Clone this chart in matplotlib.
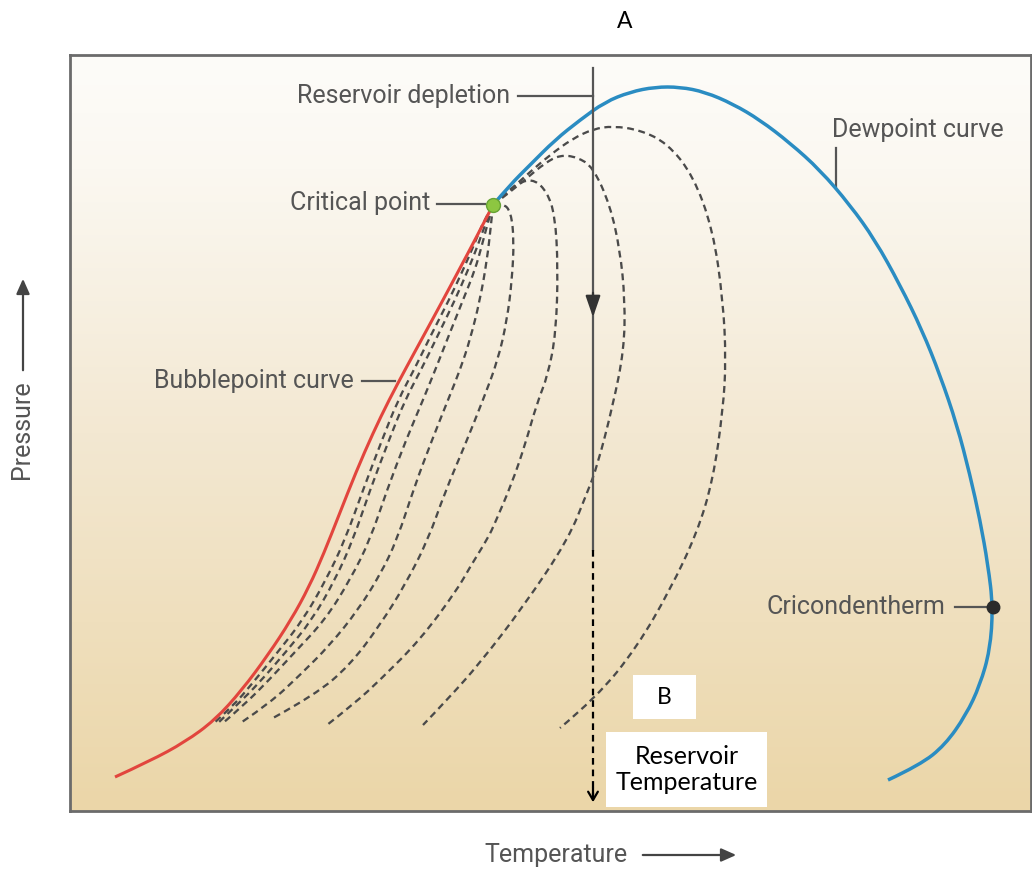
import numpy as np
import matplotlib
matplotlib.use("Agg")
import matplotlib.pyplot as plt
from matplotlib.colors import LinearSegmentedColormap
from matplotlib.patches import Rectangle, PathPatch, FancyArrowPatch
from matplotlib.path import Path

# schematic phase envelope, arbitrary units (temperature, pressure)
bubble_t = [45, 80, 115, 145, 172, 198, 221, 239, 254, 269, 286, 303, 319, 336, 354, 373, 389, 406, 423]
bubble_p = [34, 50, 69, 91, 121, 156, 191, 224, 258, 296, 339, 378, 411, 443, 476, 511, 541, 573, 606]

dew_t = [423, 440, 460, 485, 510, 535, 560, 585, 610, 635, 663, 690, 720, 750, 780, 805, 830, 852,
         870, 887, 900, 910, 918, 923, 920, 910, 896, 875, 850, 818]
dew_p = [606, 626, 646, 671, 691, 709, 719, 724, 724, 719, 707, 691, 668, 641, 606, 571, 526, 481,
         436, 386, 336, 291, 246, 204, 161, 126, 96, 66, 46, 31]

# quality lines, innermost (near bubblepoint) to outermost
quality_t = [
    [423, 414, 404, 393, 379, 361, 345, 328, 312, 293, 275, 256, 233, 207, 181, 164, 143],
    [423, 416, 408, 398, 385, 368, 352, 335, 319, 300, 283, 265, 242, 215, 189, 167, 148],
    [423, 418, 412, 405, 393, 379, 366, 353, 336, 317, 300, 280, 255, 224, 199, 174, 153],
    [423, 421, 417, 410, 400, 390, 378, 362, 345, 327, 310, 288, 260, 230, 200, 172],
    [423, 433, 441, 444, 442, 437, 428, 413, 395, 375, 358, 335, 310, 280, 245, 203],
    [423, 437, 452, 465, 477, 485, 488, 486, 478, 467, 455, 442, 425, 418, 400, 387, 350, 310, 285, 257],
    [423, 440, 457, 475, 490, 507, 523, 540, 550, 555, 554, 543, 527, 517, 498, 453, 410, 377, 353],
    [423, 440, 460, 480, 502, 523, 543, 570, 597, 623, 643, 653, 656, 653, 643, 627, 600, 567, 527, 490],
]
quality_p = [
    [606, 591, 566, 541, 511, 476, 443, 411, 371, 321, 271, 231, 191, 158, 126, 106, 87],
    [606, 589, 566, 541, 511, 476, 443, 411, 371, 321, 271, 231, 191, 158, 128, 106, 88],
    [606, 589, 566, 541, 511, 476, 443, 411, 371, 321, 271, 231, 191, 158, 131, 106, 88],
    [606, 586, 551, 511, 471, 441, 411, 371, 326, 271, 236, 201, 166, 136, 108, 89],
    [606, 608, 599, 571, 531, 491, 451, 411, 366, 319, 271, 226, 186, 146, 116, 93],
    [606, 619, 630, 631, 619, 596, 544, 478, 436, 408, 366, 328, 288, 273, 244, 221, 171, 131, 108, 86],
    [606, 619, 633, 648, 656, 654, 644, 606, 561, 511, 461, 406, 344, 318, 271, 204, 148, 111, 86],
    [606, 621, 639, 656, 672, 682, 685, 681, 668, 636, 581, 511, 451, 401, 331, 278, 221, 164, 114, 83],
]

critical_pt = (423, 606)
cricondentherm_pt = (923, 204)
reservoir_t = 523
depletion_p = [743, 491, 261, 6]

label_font = ["Roboto", "DejaVu Sans"]
label_col = "#555555"
line_col = "#555555"


def smooth(t, p):
    # quadratic segments through midpoints, read points act as control points
    pts = list(zip(t, p))
    verts = [pts[0]]
    codes = [Path.MOVETO]
    for i in range(1, len(pts) - 1):
        mid = ((pts[i][0] + pts[i + 1][0]) / 2, (pts[i][1] + pts[i + 1][1]) / 2)
        if i == len(pts) - 2:
            mid = pts[-1]
        verts += [pts[i], mid]
        codes += [Path.CURVE3, Path.CURVE3]
    return Path(verts, codes)


fig = plt.figure(figsize=(10.32, 8.71), dpi=100)
ax = fig.add_axes([70 / 1032, 60 / 871, 961 / 1032, 756 / 871])
ax.set_xlim(0, 961)
ax.set_ylim(0, 756)
ax.set_xticks([])
ax.set_yticks([])
for s in ax.spines.values():
    s.set_color("#6b6b6b")
    s.set_linewidth(2)

# cream -> tan background
cmap = LinearSegmentedColormap.from_list(
    "bg", [(0, "#ebd6a8"), (0.5, "#f3e8d2"), (0.85, "#fbf8f1"), (1, "#fdfcf9")])
grad = np.linspace(0, 1, 256).reshape(-1, 1)
ax.imshow(grad, extent=(0, 961, 0, 756), origin="lower", aspect="auto", cmap=cmap, zorder=0)

for qt, qp in zip(quality_t, quality_p):
    ax.add_patch(PathPatch(smooth(qt, qp), fill=False, edgecolor="#4a4a4a", lw=1.65,
                           linestyle=(0, (3.0, 2.0)), capstyle="butt", zorder=2))

ax.add_patch(PathPatch(smooth(bubble_t, bubble_p), fill=False, edgecolor="#e2453d", lw=2.2, zorder=3))
ax.add_patch(PathPatch(smooth(dew_t, dew_p), fill=False, edgecolor="#2a8cc2", lw=2.5, zorder=3))

ax.plot(*critical_pt, "o", ms=10, color="#8dc641", mec="#66a235", mew=1, zorder=5)
ax.plot(*cricondentherm_pt, "o", ms=9, color="#2b2b2b", zorder=5)

# reservoir depletion path
ax.plot([reservoir_t, reservoir_t], [depletion_p[0], depletion_p[2]], color=line_col, lw=1.6, zorder=4)
ax.annotate("", xy=(reservoir_t, depletion_p[1]), xytext=(reservoir_t, depletion_p[1] + 30),
            arrowprops=dict(arrowstyle="-|>,head_length=1.3,head_width=0.45", color="#333333", lw=1.6),
            zorder=4)
ax.plot([reservoir_t, reservoir_t], [depletion_p[2], depletion_p[3] + 8], color="black", lw=1.6,
        dashes=(3, 2.2), zorder=4)
ax.annotate("", xy=(reservoir_t, depletion_p[3]), xytext=(reservoir_t, depletion_p[3] + 20),
            arrowprops=dict(arrowstyle="->,head_length=0.6,head_width=0.35", color="black", lw=1.6),
            zorder=4)

# labels with leaders
fs = 18
ax.text(440, 715, "Reservoir depletion", ha="right", va="center", fontsize=fs, color=label_col, family=label_font)
ax.plot([448, reservoir_t], [715, 715], color=line_col, lw=1.6)
ax.text(360, 608, "Critical point", ha="right", va="center", fontsize=fs, color=label_col, family=label_font)
ax.plot([367, 415], [607, 607], color=line_col, lw=1.6)
ax.text(762, 681, "Dewpoint curve", ha="left", va="center", fontsize=fs, color=label_col, family=label_font)
ax.plot([766, 766], [663, 624], color=line_col, lw=1.6)
ax.text(284, 430, "Bubblepoint curve", ha="right", va="center", fontsize=fs, color=label_col, family=label_font)
ax.plot([292, 325], [430, 430], color=line_col, lw=1.6)
ax.text(875, 204, "Cricondentherm", ha="right", va="center", fontsize=fs, color=label_col, family=label_font)
ax.plot([885, 918], [204, 204], color=line_col, lw=1.6)

# white callout boxes
ax.add_patch(Rectangle((563, 92), 63, 44, facecolor="white", edgecolor="none", zorder=6))
ax.text(594.5, 114, "B", ha="center", va="center", fontsize=16.5, family="Lato", zorder=7)
ax.add_patch(Rectangle((536, 4), 161, 75, facecolor="white", edgecolor="none", zorder=6))
ax.text(616.5, 41.5, "Reservoir\nTemperature", ha="center", va="center", fontsize=18,
        family="Lato", linespacing=1.15, zorder=7)

# outside annotations
fig.text(625 / 1032, 1 - 22 / 871, "A", ha="center", va="center", fontsize=16.5, family="Lato")
fig.text(22 / 1032, 1 - 430 / 871, "Pressure", rotation=90, ha="center", va="center",
         fontsize=fs, color=label_col, family=label_font)
fig.add_artist(FancyArrowPatch(
    (23, 871 - 373), (23, 871 - 276), transform=None, color="#444444", lw=1.6,
    arrowstyle="-|>,head_length=9,head_width=4"))
fig.text(556 / 1032, 16 / 871, "Temperature", ha="center", va="center",
         fontsize=fs, color=label_col, family=label_font)
fig.add_artist(FancyArrowPatch(
    (640, 16), (739, 16), transform=None, color="#444444", lw=1.6,
    arrowstyle="-|>,head_length=9,head_width=4"))

fig.savefig("out.png", dpi=100)
